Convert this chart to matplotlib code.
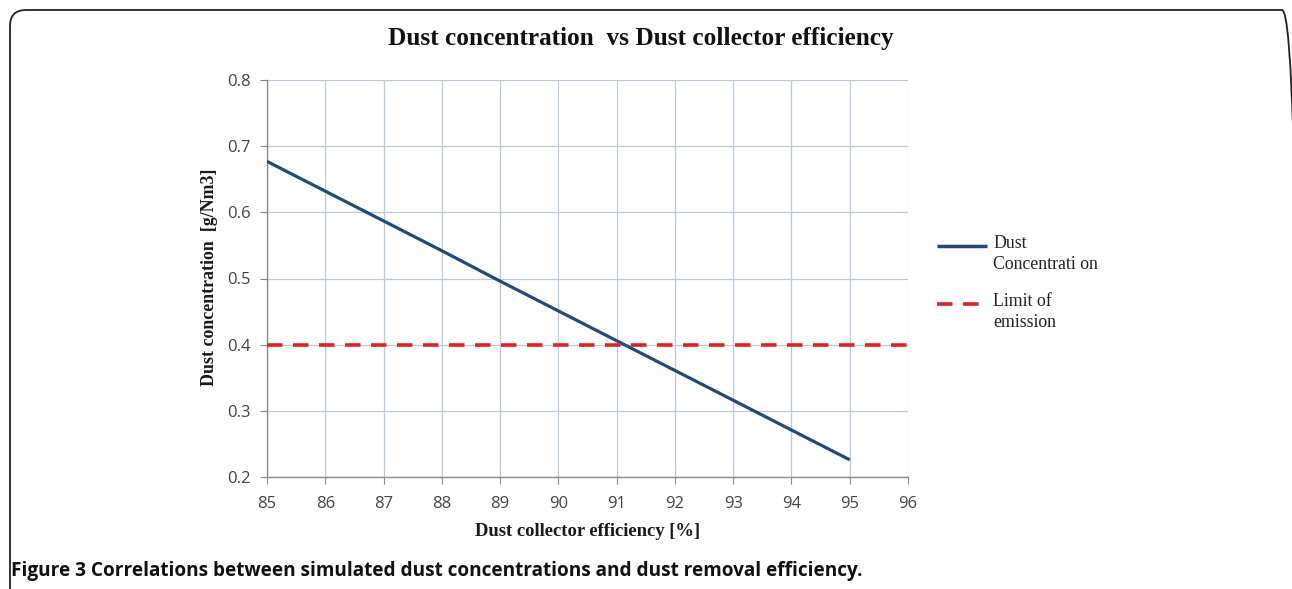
import matplotlib
matplotlib.use("Agg")
import matplotlib.pyplot as plt
from matplotlib.patches import FancyBboxPatch
from matplotlib.lines import Line2D
from matplotlib.transforms import IdentityTransform

efficiency = [85, 86, 87, 88, 89, 90, 91, 92, 93, 94, 95]
dust_conc = [0.677, 0.632, 0.587, 0.542, 0.496, 0.451, 0.406, 0.361, 0.316, 0.271, 0.226]
limit_x = [85, 96]
limit_y = [0.4, 0.4]
x_ticks = list(range(85, 97))
y_ticks = [0.2, 0.3, 0.4, 0.5, 0.6, 0.7, 0.8]
legend_labels = ["Dust\nConcentrati on", "Limit of\nemission"]

W, H = 1292, 589
fig = plt.figure(figsize=(W / 100, H / 100), dpi=100)

def fx(px):
    return px / W

def fy(py):
    return 1 - py / H

# rounded border (pixel units, display coordinates)
box = FancyBboxPatch((10, -30), 1298 - 10, H - 10 + 30,
                     boxstyle="round,pad=0,rounding_size=16",
                     transform=IdentityTransform(), fill=False, edgecolor="#222222",
                     linewidth=1.3, clip_on=False)
fig.patches.append(box)

ax = fig.add_axes([fx(267), fy(477), (908 - 267) / W, (477 - 80) / H])
line_color = "#1f4a7c"
limit_color = "#e3211c"
ax.plot(efficiency, dust_conc, color=line_color, linewidth=2.3, solid_capstyle="butt", zorder=3)
ax.plot(limit_x, limit_y, color=limit_color, linewidth=2.6, dashes=(4.3, 2.9),
        dash_capstyle="butt", zorder=3)

ax.set_xlim(85, 96)
ax.set_ylim(0.2, 0.8)
ax.set_xticks(x_ticks)
ax.set_yticks(y_ticks)
ax.set_xticklabels([str(v) for v in x_ticks])
ax.set_yticklabels([f"{v:.1f}" for v in y_ticks])
ax.grid(True, color="#b8c9dd", linewidth=0.9)
ax.set_axisbelow(True)
for s in ["top", "right"]:
    ax.spines[s].set_visible(False)
for s in ["left", "bottom"]:
    ax.spines[s].set_color("#8a8a8a")
    ax.spines[s].set_linewidth(1.0)
ax.tick_params(axis="both", direction="out", length=5, color="#8a8a8a",
               labelsize=12, labelcolor="#444444")
ax.tick_params(axis="x", pad=9)
ax.tick_params(axis="y", pad=7)
for lab in ax.get_xticklabels() + ax.get_yticklabels():
    lab.set_family("Open Sans")

ax.set_xlabel("Dust collector efficiency [%]", family="Liberation Serif",
              fontweight="bold", fontsize=13.4, color="#1a1a1a")
ax.xaxis.set_label_coords((588 - 267) / (908 - 267), -(532 - 477) / (477 - 80))
ax.set_ylabel("Dust concentration  [g/Nm3]", family="Liberation Serif",
              fontweight="bold", fontsize=12.9, color="#1a1a1a")
ax.yaxis.set_label_coords(-(267 - 209) / (908 - 267), (477 - 277) / (477 - 80))
ax.yaxis.label.set_va("center")
ax.xaxis.label.set_va("center")

fig.text(fx(641), fy(38), "Dust concentration  vs Dust collector efficiency",
         family="Liberation Serif", fontweight="bold", fontsize=18.2,
         ha="center", va="center", color="#111111")

# legend (drawn at the reference position, handle aligned with first text line)
leg_items = [(246, line_color, None), (304, limit_color, (4.3, 2.9))]
for (ypx, col, dash), label in zip(leg_items, legend_labels):
    kw = dict(color=col, linewidth=2.5 if dash is None else 2.6,
              transform=fig.transFigure, solid_capstyle="butt")
    ln = Line2D([fx(937), fx(987)], [fy(ypx), fy(ypx)], **kw)
    if dash is not None:
        ln.set_dashes(dash)
        ln.set_dash_capstyle("butt")
    fig.add_artist(ln)
    fig.text(fx(993), fy(ypx - 11), label, family="Liberation Serif", fontsize=12.8,
             ha="left", va="top", linespacing=1.3, color="#222222")

fig.text(fx(11), fy(571),
         "Figure 3 Correlations between simulated dust concentrations and dust removal efficiency.",
         family="Open Sans", fontweight="bold", fontsize=13.65, ha="left", va="center",
         color="#111111")

fig.savefig("out.png", dpi=100)
